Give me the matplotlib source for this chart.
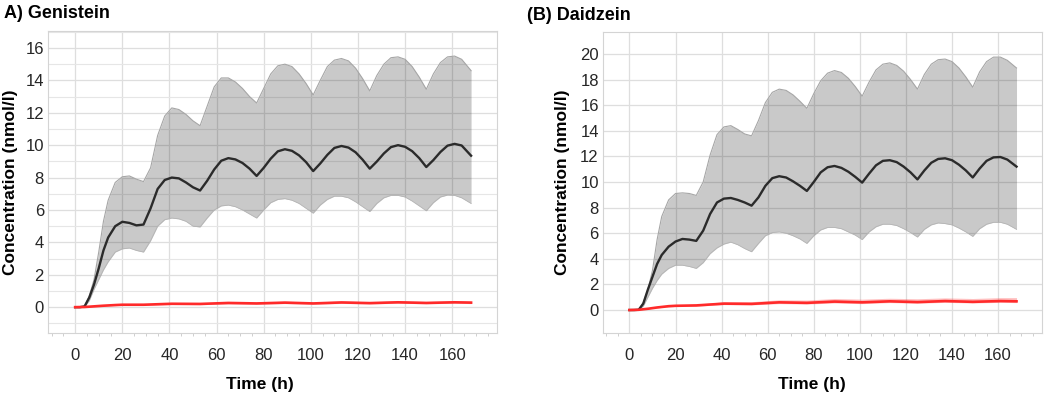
import matplotlib
matplotlib.use('Agg')
import matplotlib.pyplot as plt
from matplotlib.ticker import MultipleLocator

plt.rcParams['font.family'] = ['Liberation Sans', 'DejaVu Sans']

# time grid (h)
t = [0, 2, 4, 6, 8, 10, 12, 14, 17, 20, 23, 26, 29, 32, 35, 38, 41, 44, 47, 50, 53,
     56, 59, 62, 65, 68, 71, 74, 77, 80, 83, 86, 89, 92, 95, 98, 101,
     104, 107, 110, 113, 116, 119, 122, 125, 128, 131, 134, 137, 140, 143, 146, 149,
     152, 155, 158, 161, 164, 168]

# Genistein: mean and 5th/95th percentile band
gen_mean = [0, 0, 0.05, 0.6, 1.4, 2.4, 3.5, 4.3, 5.0, 5.27, 5.2, 5.05, 5.1, 6.1, 7.3, 7.85, 8.0, 7.95, 7.7, 7.4, 7.2,
            7.8, 8.5, 9.04, 9.2, 9.12, 8.9, 8.55, 8.1, 8.6, 9.17, 9.62, 9.75, 9.65, 9.37, 8.95, 8.4,
            8.87, 9.4, 9.83, 9.95, 9.85, 9.56, 9.1, 8.55, 8.99, 9.49, 9.88, 10.0, 9.9, 9.63, 9.2, 8.65,
            9.08, 9.58, 9.97, 10.08, 9.98, 9.35]
gen_hi = [0, 0, 0.05, 0.7, 1.7, 3.4, 5.3, 6.6, 7.7, 8.05, 8.1, 7.9, 7.75, 8.6, 10.6, 11.8, 12.3, 12.2, 11.9, 11.5, 11.2,
          12.4, 13.6, 14.15, 14.15, 13.9, 13.5, 13.0, 12.6, 13.5, 14.4, 14.9, 15.0, 14.85, 14.4, 13.8, 13.1,
          14.0, 14.85, 15.25, 15.35, 15.2, 14.75, 14.1, 13.35, 14.3, 15.0, 15.4, 15.45, 15.3, 14.85, 14.2, 13.45,
          14.4, 15.1, 15.45, 15.5, 15.3, 14.6]
gen_lo = [0, 0, 0.02, 0.4, 1.1, 1.7, 2.3, 2.8, 3.4, 3.6, 3.65, 3.5, 3.4, 4.1, 5.0, 5.4, 5.5, 5.45, 5.3, 5.0, 4.95,
          5.5, 6.0, 6.25, 6.3, 6.2, 6.0, 5.75, 5.5, 6.0, 6.45, 6.65, 6.7, 6.6, 6.4, 6.1, 5.8,
          6.3, 6.65, 6.85, 6.85, 6.75, 6.5, 6.2, 5.9, 6.4, 6.75, 6.9, 6.9, 6.8, 6.55, 6.25, 5.95,
          6.45, 6.8, 6.92, 6.9, 6.75, 6.4]

# Daidzein
dai_mean = [0, 0, 0.02, 0.5, 1.6, 2.6, 3.6, 4.3, 4.95, 5.35, 5.55, 5.5, 5.4, 6.2, 7.5, 8.4, 8.7, 8.75, 8.6, 8.4, 8.15,
            8.8, 9.7, 10.3, 10.45, 10.35, 10.05, 9.7, 9.3, 10.0, 10.75, 11.15, 11.25, 11.1, 10.8, 10.4, 9.95,
            10.65, 11.3, 11.65, 11.7, 11.55, 11.2, 10.75, 10.2, 10.9, 11.5, 11.8, 11.85, 11.7, 11.35, 10.9, 10.35,
            11.05, 11.65, 11.92, 11.95, 11.75, 11.2]
dai_hi = [0, 0, 0.02, 0.6, 1.6, 3.1, 5.5, 7.3, 8.6, 9.1, 9.15, 9.1, 8.95, 10.0, 12.1, 13.7, 14.3, 14.4, 14.1, 13.75, 13.6,
          14.8, 16.2, 17.0, 17.25, 17.15, 16.8, 16.3, 15.75, 16.9, 17.9, 18.5, 18.7, 18.55, 18.1, 17.45, 16.7,
          17.8, 18.75, 19.2, 19.3, 19.1, 18.65, 18.0, 17.25, 18.4, 19.2, 19.55, 19.6, 19.4, 18.9, 18.2, 17.4,
          18.6, 19.4, 19.75, 19.75, 19.5, 18.9]
dai_lo = [0, 0, 0.02, 0.3, 1.0, 1.7, 2.3, 2.8, 3.25, 3.5, 3.5, 3.4, 3.25, 3.7, 4.4, 4.85, 5.15, 5.3, 5.1, 4.8, 4.55,
          5.2, 5.8, 6.05, 6.1, 6.0, 5.8, 5.55, 5.2, 5.8, 6.25, 6.45, 6.45, 6.35, 6.1, 5.85, 5.5,
          6.1, 6.5, 6.7, 6.7, 6.6, 6.35, 6.05, 5.7, 6.3, 6.65, 6.8, 6.75, 6.65, 6.4, 6.1, 5.75,
          6.35, 6.7, 6.85, 6.85, 6.7, 6.3]

# red (second simulation) curves
t_red = [0, 4, 8, 12, 17, 20, 29, 41, 53, 65, 77, 89, 101, 113, 125, 137, 149, 161, 168]
gen_red = [0, 0.01, 0.05, 0.09, 0.13, 0.15, 0.15, 0.21, 0.2, 0.26, 0.23, 0.28, 0.23, 0.29, 0.25, 0.3, 0.26, 0.3, 0.28]
gen_red_hi = [0, 0.02, 0.07, 0.12, 0.17, 0.2, 0.2, 0.28, 0.27, 0.34, 0.3, 0.37, 0.31, 0.39, 0.33, 0.4, 0.35, 0.4, 0.38]
gen_red_lo = [0, 0.0, 0.03, 0.07, 0.1, 0.11, 0.11, 0.16, 0.15, 0.2, 0.18, 0.22, 0.18, 0.23, 0.2, 0.24, 0.21, 0.24, 0.22]
dai_red = [0, 0.02, 0.1, 0.2, 0.3, 0.33, 0.36, 0.5, 0.48, 0.6, 0.56, 0.66, 0.6, 0.68, 0.62, 0.7, 0.64, 0.7, 0.68]
dai_red_hi = [0, 0.03, 0.13, 0.25, 0.36, 0.4, 0.45, 0.65, 0.65, 0.8, 0.78, 0.9, 0.85, 0.92, 0.88, 0.95, 0.9, 0.97, 0.97]
dai_red_lo = [0, 0.01, 0.08, 0.17, 0.25, 0.28, 0.3, 0.42, 0.4, 0.5, 0.47, 0.55, 0.5, 0.58, 0.53, 0.6, 0.55, 0.6, 0.58]

xticks = [0, 20, 40, 60, 80, 100, 120, 140, 160]


def draw_panel(ax, mean, lo, hi, rmean, rlo, rhi, ylim, yminor, xlab_pos, ylab_pos):
  ax.set_xlim(-11.5, 179)
  ax.set_ylim(*ylim)
  ax.set_xticks(xticks)
  ax.yaxis.set_major_locator(MultipleLocator(2))
  ax.xaxis.set_minor_locator(MultipleLocator(5))
  if yminor:
    ax.yaxis.set_minor_locator(MultipleLocator(yminor))
    ax.grid(True, which='minor', axis='y', color='#e6e6e6', lw=0.8, zorder=0)
  ax.grid(True, which='major', color='#dedede', lw=0.9, zorder=0)
  ax.set_axisbelow(True)
  for s in ax.spines.values():
    s.set_color('#d4d4d4')
  ax.tick_params(which='major', length=0, labelsize=12, labelcolor='#262626')
  ax.tick_params(which='major', axis='x', pad=11)
  ax.tick_params(which='major', axis='y', pad=3)
  ax.tick_params(which='minor', axis='x', length=2.5, color='#c8c8c8')
  ax.tick_params(which='minor', axis='y', length=0)

  ax.fill_between(t, lo, hi, color='black', alpha=0.21, lw=0, zorder=2)
  ax.plot(t, hi, color='#a6a6a6', lw=0.8, zorder=2)
  ax.plot(t, lo, color='#b4b4b4', lw=0.6, zorder=2)
  ax.plot(t, mean, color='#2b2b2b', lw=1.7, zorder=3, solid_joinstyle='round')
  ax.fill_between(t_red, rlo, rhi, color='#ff3030', alpha=0.3, lw=0, zorder=4)
  ax.plot(t_red, rmean, color='#ff2a2a', lw=1.9, zorder=5)

  ax.set_xlabel('Time (h)', fontsize=12.5, fontweight='bold')
  ax.set_ylabel('Concentration (nmol/l)', fontsize=12.5, fontweight='bold')
  ax.xaxis.set_label_coords(*xlab_pos)
  ax.yaxis.set_label_coords(*ylab_pos)


fig = plt.figure(figsize=(10.45, 3.97), dpi=100)
ax1 = fig.add_axes([0.046, 0.161, 0.4296, 0.761])
ax2 = fig.add_axes([0.577, 0.161, 0.420, 0.758])

draw_panel(ax1, gen_mean, gen_lo, gen_hi, gen_red, gen_red_lo, gen_red_hi,
           (-1.6, 17.05), 1, (0.472, -0.146), (-0.066, 0.5))
draw_panel(ax2, dai_mean, dai_lo, dai_hi, dai_red, dai_red_lo, dai_red_hi,
           (-1.8, 21.7), None, (0.476, -0.146), (-0.076, 0.5))

fig.text(0.004, 0.965, 'A) Genistein', fontsize=13, fontweight='bold', va='center', ha='left')
fig.text(0.504, 0.962, '(B) Daidzein', fontsize=13, fontweight='bold', va='center', ha='left')

fig.savefig('out.png', dpi=100)
